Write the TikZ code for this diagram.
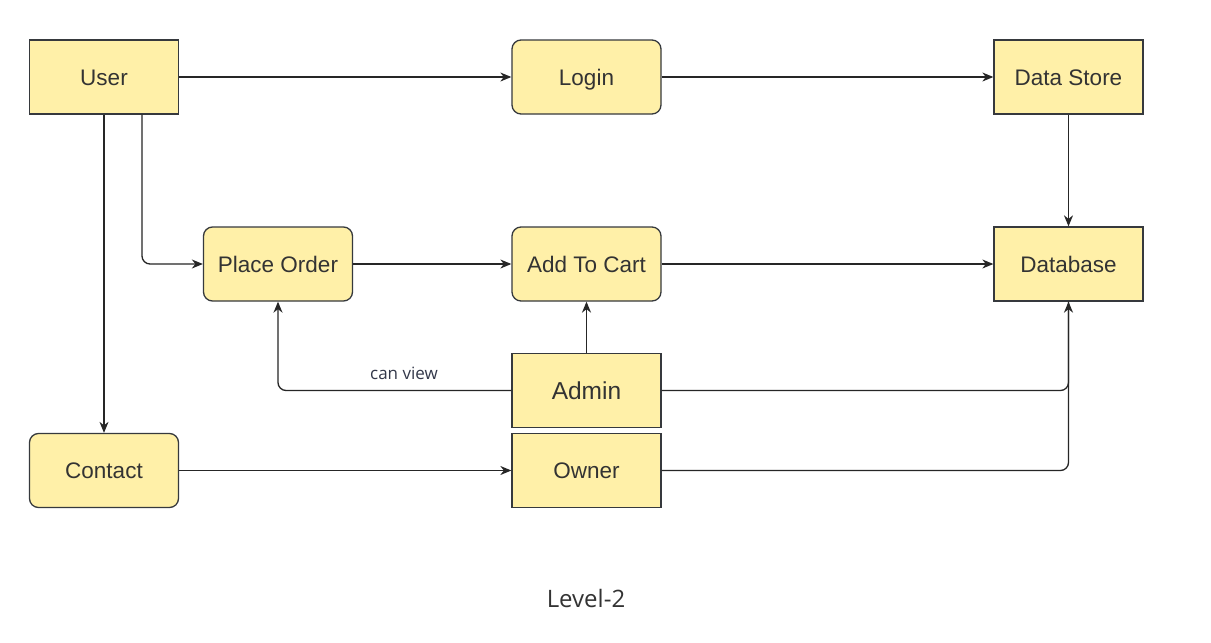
\documentclass[tikz,border=0pt]{standalone}
\usepackage{fontspec}
\setmainfont{Liberation Sans}
\newfontfamily\labelfont{Open Sans}
\usetikzlibrary{arrows.meta}
\definecolor{boxfill}{HTML}{FFF0A8}
\definecolor{boxline}{HTML}{36393D}
\definecolor{txt}{HTML}{333333}
\definecolor{lbl}{HTML}{33384A}
\begin{document}
\begin{tikzpicture}[x=1pt,y=-1pt,
  base/.style={draw=boxline, fill=boxfill, line width=1.3pt, minimum width=149pt, minimum height=74pt, inner sep=0pt, text=txt, font=\fontsize{22.5}{26}\selectfont, text height=20pt, text depth=4pt},
  sqbox/.style={base},
  rbox/.style={base, rounded corners=9pt},
  conn/.style={draw=black!85, line width=1.3pt, rounded corners=8pt},
  arr/.style={conn, -{Stealth[length=11pt,width=9pt,inset=3.5pt]}}
]
\useasboundingbox[fill=white] (0,0) rectangle (1211,643);
\node[sqbox] (user) at (104,77) {User};
\node[rbox] (login) at (586.5,77) {Login};
\node[sqbox] (ds) at (1068.5,77) {Data Store};
\node[rbox] (po) at (278,264) {Place Order};
\node[rbox] (cart) at (586.5,264) {Add To Cart};
\node[sqbox] (db) at (1068.5,264) {Database};
\node[sqbox, font=\fontsize{24.5}{28}\selectfont, text height=21.5pt, text depth=4pt] (admin) at (586.5,390.5) {Admin};
\node[rbox] (contact) at (104,470.5) {Contact};
\node[sqbox] (owner) at (586.5,470.5) {Owner};
\node[font=\labelfont\fontsize{24}{28}\selectfont, text=txt] (lvl) at (586,598) {Level-2};

\draw[arr] (user) -- (login);
\draw[arr] (login) -- (ds);
\draw[arr] (ds) -- (db);
\draw[arr] (user) -- (contact);
\draw[arr] ([xshift=38pt]user.south) |- (po.west);
\draw[arr] (po) -- (cart);
\draw[arr] (cart) -- (db);
\draw[arr] (admin) -- (cart);
\draw[arr] (admin.west) -| node[pos=0.23, above=10pt, font=\labelfont\fontsize{17}{20}\selectfont, text=lbl, inner sep=0pt] (cv) {can view} (po.south);
\draw[arr] (admin.east) -| (db.south);
\draw[conn] (owner.east) -| (db.south);
\draw[arr] (contact) -- (owner);
\end{tikzpicture}
\end{document}
